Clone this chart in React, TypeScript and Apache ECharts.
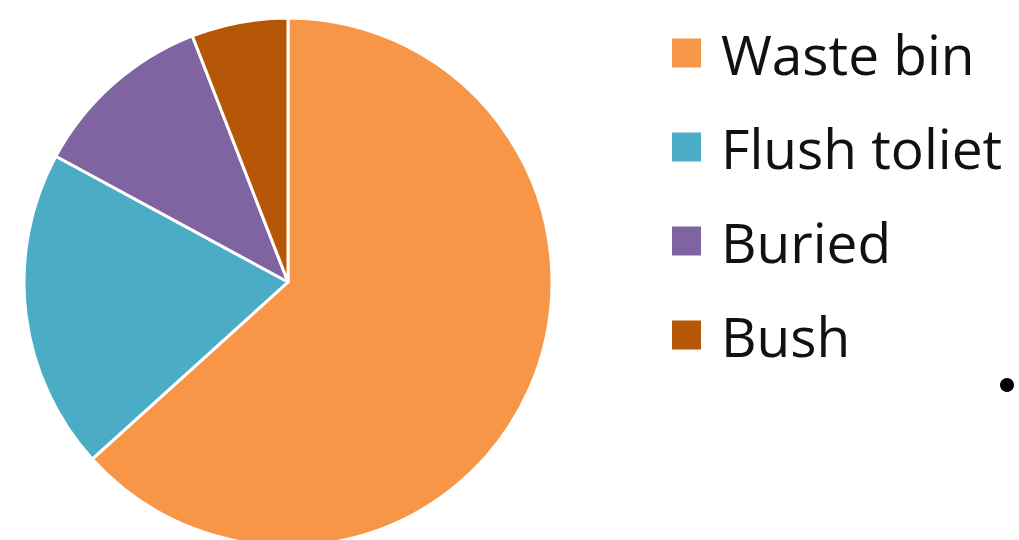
import React, { useEffect, useRef } from "react";
import * as echarts from "echarts";

const categories = ["Waste bin", "Flush toliet", "Buried", "Bush"];
const values = [63.3, 19.6, 11.2, 5.9];
const colors = ["#F79646", "#4BACC6", "#8064A2", "#B65708"];

export default function App() {
  const ref = useRef<HTMLDivElement>(null);
  useEffect(() => {
    document.body.style.margin = "0";
    const chart = echarts.init(ref.current!, null, { renderer: "svg" });
    chart.setOption({
      animation: false,
      color: colors,
      legend: {
        orient: "vertical",
        left: 670,
        top: 23,
        padding: 0,
        icon: "rect",
        itemWidth: 31,
        itemHeight: 31,
        itemGap: 34,
        data: categories,
        textStyle: {
          fontFamily: "Open Sans",
          fontSize: 55,
          lineHeight: 60,
          color: "#111",
          padding: [0, 0, 0, 14],
        },
      },
      graphic: [
        { type: "circle", shape: { cx: 1007, cy: 385, r: 7 }, style: { fill: "#000" } },
      ],
      series: [
        {
          type: "pie",
          center: [288, 282],
          radius: 264,
          startAngle: 90,
          clockwise: true,
          label: { show: false },
          labelLine: { show: false },
          itemStyle: { borderColor: "#fff", borderWidth: 3 },
          data: categories.map((c, i) => ({ name: c, value: values[i] })),
        },
      ],
    });
    return () => chart.dispose();
  }, []);
  return <div ref={ref} style={{ width: 1019, height: 540 }} />;
}
